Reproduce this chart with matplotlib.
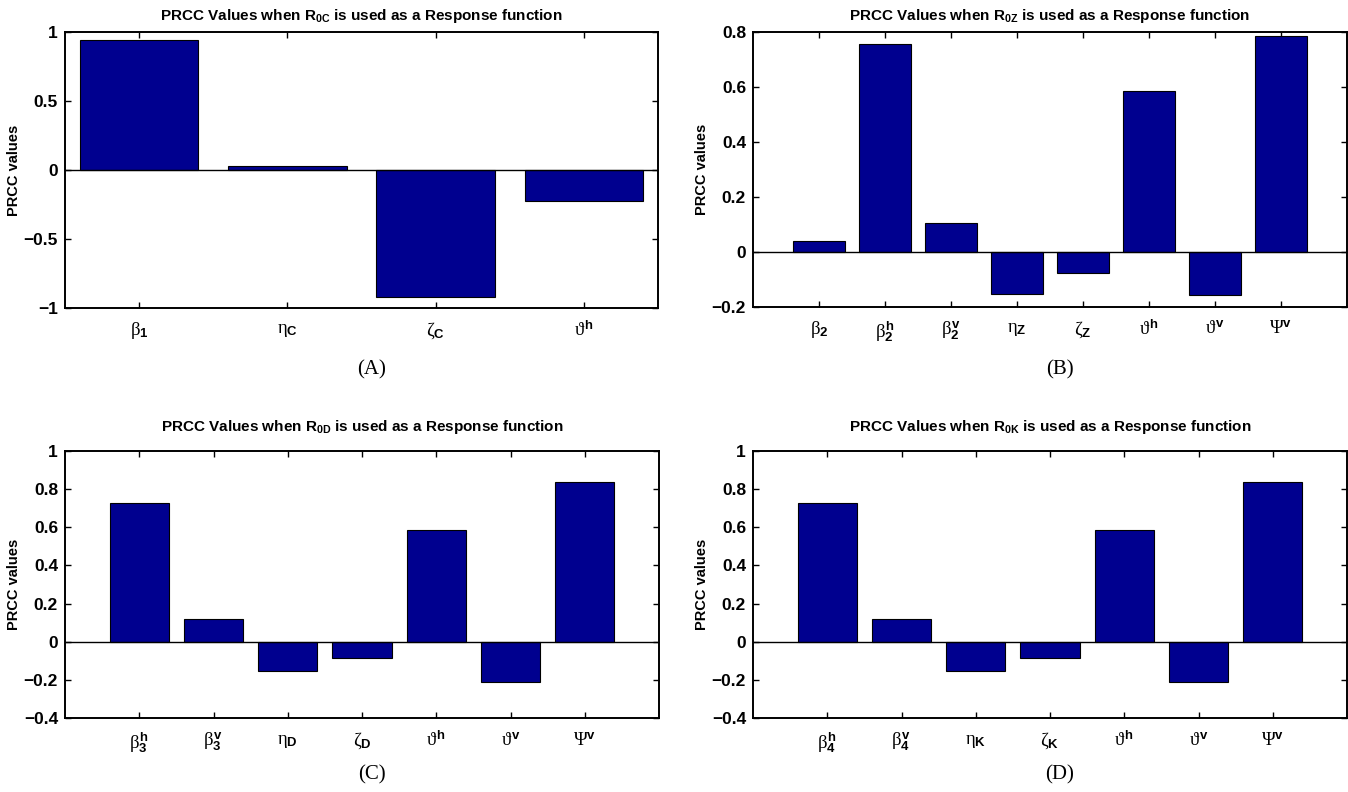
import numpy as np
import matplotlib
matplotlib.use('Agg')
import matplotlib.pyplot as plt
from matplotlib import font_manager

# ---- data ----
labels_a = [r'$\beta_\mathbf{1}$', r'$\eta_\mathbf{C}$', r'$\zeta_\mathbf{C}$', r'$\vartheta^\mathbf{h}$']
values_a = [0.94, 0.029, -0.918, -0.223]

labels_b = [r'$\beta_\mathbf{2}$', r'$\beta_\mathbf{2}^\mathbf{h}$', r'$\beta_\mathbf{2}^\mathbf{v}$',
            r'$\eta_\mathbf{Z}$', r'$\zeta_\mathbf{Z}$', r'$\vartheta^\mathbf{h}$',
            r'$\vartheta^\mathbf{v}$', r'$\Psi^\mathbf{v}$']
values_b = [0.041, 0.758, 0.106, -0.152, -0.076, 0.585, -0.156, 0.787]

labels_c = [r'$\beta_\mathbf{3}^\mathbf{h}$', r'$\beta_\mathbf{3}^\mathbf{v}$', r'$\eta_\mathbf{D}$',
            r'$\zeta_\mathbf{D}$', r'$\vartheta^\mathbf{h}$', r'$\vartheta^\mathbf{v}$', r'$\Psi^\mathbf{v}$']
values_c = [0.726, 0.119, -0.152, -0.086, 0.585, -0.209, 0.839]

labels_d = [r'$\beta_\mathbf{4}^\mathbf{h}$', r'$\beta_\mathbf{4}^\mathbf{v}$', r'$\eta_\mathbf{K}$',
            r'$\zeta_\mathbf{K}$', r'$\vartheta^\mathbf{h}$', r'$\vartheta^\mathbf{v}$', r'$\Psi^\mathbf{v}$']
values_d = [0.726, 0.119, -0.152, -0.086, 0.585, -0.209, 0.839]

titles = ['0C', '0Z', '0D', '0K']
panel_tags = ['(A)', '(B)', '(C)', '(D)']

# ---- fonts ----
names = {f.name for f in font_manager.fontManager.ttflist}
narrow = 'Liberation Sans Narrow' if 'Liberation Sans Narrow' in names else 'Liberation Sans'
plt.rcParams['mathtext.fontset'] = 'custom'
plt.rcParams['mathtext.rm'] = 'Liberation Serif'
plt.rcParams['mathtext.it'] = 'Liberation Serif'
plt.rcParams['mathtext.bf'] = narrow + ':bold'

W, H = 1348, 792
fig = plt.figure(figsize=(W / 100, H / 100), dpi=100)
BAR = '#00008F'


def rect(l, r, t, b):
    return [l / W, 1 - b / H, (r - l) / W, (b - t) / H]


panels = [
    (labels_a, values_a, (65, 658, 32, 308), (0.5, 4.5), (-1, 1), [-1, -0.5, 0, 0.5, 1], ['-1', '-0.5', '0', '0.5', '1'], 16, 370),
    (labels_b, values_b, (753, 1347, 32, 307), (0, 9), (-0.2, 0.8), [-0.2, 0, 0.2, 0.4, 0.6, 0.8], None, 16, 370),
    (labels_c, values_c, (65, 659, 451, 718), (0, 8), (-0.4, 1), [-0.4, -0.2, 0, 0.2, 0.4, 0.6, 0.8, 1], None, 427, 775),
    (labels_d, values_d, (753, 1347, 451, 718), (0, 8), (-0.4, 1), [-0.4, -0.2, 0, 0.2, 0.4, 0.6, 0.8, 1], None, 427, 775),
]

for i, (labs, vals, box, xl, yl, yt, ytl, title_y, tag_y) in enumerate(panels):
    l, r, t, b = box
    ax = fig.add_axes(rect(l, r, t, b))
    x = np.arange(1, len(vals) + 1)
    ax.bar(x, vals, width=0.8, color=BAR, edgecolor='black', linewidth=0.8, zorder=2)
    ax.axhline(0, color='black', lw=1, zorder=3)
    ax.set_xlim(*xl)
    ax.set_ylim(*yl)
    ax.set_xticks(x)
    ax.set_xticklabels(labs, fontsize=13.5)
    ax.set_yticks(yt)
    if ytl is None:
        ytl = [('%g' % v).replace('-', '\u2212') for v in yt]
    else:
        ytl = [s.replace('-', '\u2212') for s in ytl]
    ax.set_yticklabels(ytl, fontsize=12.5, fontweight='bold', family=narrow)
    ax.tick_params(direction='in', top=True, right=True, length=4, width=1, pad=5)
    ax.tick_params(axis='x', pad=9)
    for s in ax.spines.values():
        s.set_linewidth(1.4)
    ax.set_ylabel('PRCC values', fontsize=10.5, fontweight='bold', family='Liberation Sans')
    ax.yaxis.set_label_coords(-44 / (r - l), 0.5)
    cx = (l + r) / 2
    fig.text(cx / W, 1 - title_y / H,
             'PRCC Values when $\\mathbf{R_{%s}}$ is used as a Response function' % titles[i],
             ha='center', va='center', fontsize=11, fontweight='bold', family=narrow)
    fig.text((cx + 10) / W, 1 - tag_y / H, panel_tags[i], ha='center', va='center',
             fontsize=15, family='Liberation Serif')

fig.savefig('out.png', dpi=100)
